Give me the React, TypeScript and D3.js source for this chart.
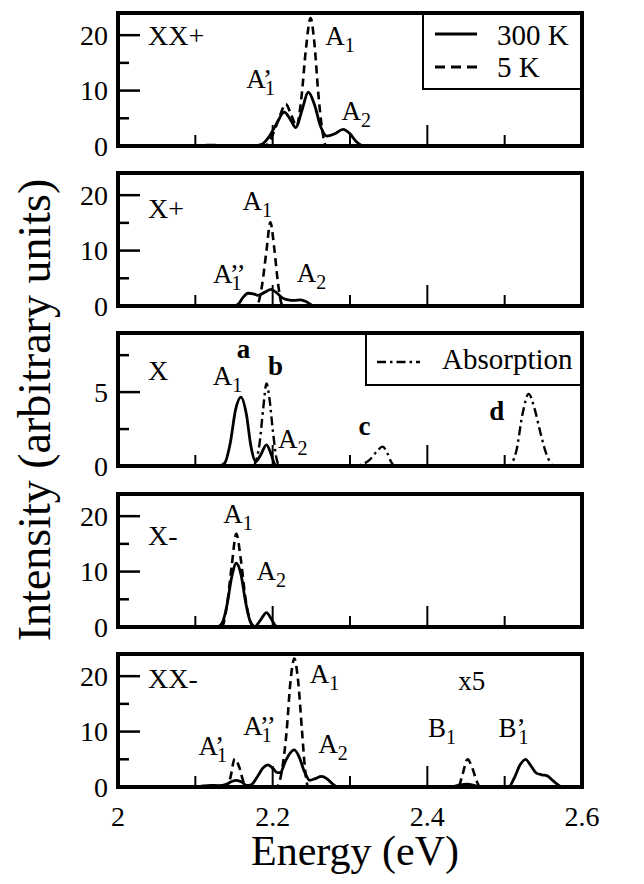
import React from 'react';
import * as d3 from 'd3';

type Pt = [number, number];

// ---------- data ----------
const energyTickLabels = [2, 2.2, 2.4, 2.6];
const energyMajorTicks = [2.2, 2.4];
const energyMinorTicks = [2.1, 2.3, 2.5];

const panelNames = ['XX+', 'X+', 'X', 'X-', 'XX-'];
const panelNameLevel = [18.2, 15.8, 5.82, 14.8, 17.8];
const panelYMax = [24, 24, 9, 24, 24];
const panelYMajor = [[0, 10, 20], [0, 10, 20], [0, 5], [0, 10, 20], [0, 10, 20]];
const panelYMinor = [[5, 15], [5, 15], [2.5, 7.5], [5, 15], [5, 15]];

// XX+
const xxPlus300K: Pt[] = [
  [2.0, 0], [2.105, 0], [2.115, 0.15], [2.125, 0.15], [2.135, 0], [2.175, 0], [2.186, 0.3],
  [2.195, 1.6], [2.205, 4.0], [2.215, 6.1], [2.222, 5.0], [2.23, 3.3], [2.238, 6.5],
  [2.246, 9.7], [2.254, 7.5], [2.262, 3.5], [2.27, 1.8], [2.28, 2.2], [2.291, 3.0],
  [2.3, 2.2], [2.308, 0.8], [2.315, 0.1], [2.32, 0], [2.6, 0],
];
const xxPlus5K: Pt[] = [
  [2.0, 0], [2.19, 0], [2.2, 2.0], [2.209, 5.3], [2.217, 7.6], [2.224, 5.6], [2.231, 3.6],
  [2.237, 8.5], [2.243, 17.5], [2.249, 23.1], [2.254, 18.5], [2.259, 9.5], [2.264, 3.0],
  [2.269, 0], [2.6, 0],
];
// X+
const xPlus300K: Pt[] = [
  [2.0, 0], [2.15, 0], [2.156, 0.4], [2.162, 1.6], [2.168, 2.3], [2.175, 2.2], [2.181, 1.9],
  [2.19, 2.5], [2.198, 3.0], [2.205, 2.4], [2.212, 1.5], [2.22, 1.1], [2.228, 1.0],
  [2.236, 1.1], [2.243, 0.8], [2.25, 0.2], [2.255, 0], [2.6, 0],
];
const xPlus5K: Pt[] = [
  [2.0, 0], [2.179, 0], [2.186, 3.5], [2.192, 10.0], [2.197, 15.1], [2.202, 10.5],
  [2.207, 4.0], [2.213, 0], [2.6, 0],
];
// X
const x300K: Pt[] = [
  [2.0, 0], [2.13, 0], [2.138, 0.2], [2.145, 1.5], [2.152, 3.8], [2.159, 4.66], [2.166, 3.5],
  [2.172, 1.3], [2.178, 0.3], [2.184, 0.7], [2.192, 1.43], [2.198, 0.8], [2.203, 0.1],
  [2.208, 0], [2.6, 0],
];
const xAbsorption: Pt[] = [
  [2.176, 0], [2.183, 1.5], [2.188, 4.0], [2.192, 5.58], [2.196, 4.5], [2.2, 2.5], [2.205, 0.5],
  [2.209, 0], [2.305, 0], [2.315, 0.1], [2.325, 0.4], [2.335, 1.0], [2.342, 1.31], [2.348, 0.9],
  [2.353, 0.3], [2.358, 0], [2.505, 0], [2.515, 1.0], [2.523, 3.5], [2.531, 4.88], [2.538, 4.0],
  [2.546, 2.3], [2.554, 0.8], [2.562, 0],
];
// X-
const xMinus300K: Pt[] = [
  [2.0, 0], [2.128, 0], [2.135, 0.8], [2.141, 4.0], [2.147, 9.0], [2.153, 11.5], [2.159, 9.5],
  [2.165, 4.5], [2.171, 1.0], [2.177, 0.1], [2.184, 1.2], [2.192, 2.6], [2.198, 1.5],
  [2.204, 0.2], [2.208, 0], [2.6, 0],
];
const xMinus5K: Pt[] = [
  [2.0, 0], [2.134, 0], [2.141, 4.0], [2.147, 11.0], [2.153, 16.8], [2.159, 12.0], [2.165, 5.0],
  [2.171, 1.0], [2.176, 0], [2.6, 0],
];
// XX-
const xxMinus300K: Pt[] = [
  [2.0, 0], [2.1, 0], [2.11, 0.2], [2.12, 0.3], [2.13, 0.25], [2.14, 0.5], [2.147, 1.0],
  [2.153, 1.2], [2.16, 0.9], [2.166, 0.3], [2.172, 0.4], [2.18, 1.8], [2.188, 3.5],
  [2.194, 4.0], [2.2, 3.4], [2.206, 2.6], [2.21, 2.6], [2.216, 4.5], [2.222, 6.0],
  [2.228, 6.7], [2.234, 5.5], [2.241, 2.8], [2.248, 1.2], [2.255, 1.5], [2.263, 1.9],
  [2.27, 1.5], [2.277, 0.6], [2.284, 0], [2.325, 0], [2.33, 0.1], [2.338, 0.1], [2.343, 0],
  [2.43, 0], [2.44, 0.3], [2.452, 0.5], [2.46, 0.3], [2.47, 0], [2.505, 0], [2.512, 1.5],
  [2.52, 4.0], [2.527, 5.0], [2.534, 3.8], [2.541, 2.5], [2.548, 2.2], [2.555, 2.0],
  [2.562, 1.2], [2.568, 0.5], [2.575, 0], [2.6, 0],
];
const xxMinus5K: Pt[] = [
  [2.0, 0], [2.14, 0], [2.145, 1.5], [2.151, 5.1], [2.157, 3.5], [2.162, 1.0], [2.166, 0],
  [2.205, 0], [2.212, 3.0], [2.218, 10.0], [2.223, 19.0], [2.228, 23.2], [2.233, 19.0],
  [2.238, 10.0], [2.242, 3.0], [2.246, 0], [2.44, 0], [2.445, 2.0], [2.452, 5.0],
  [2.458, 3.5], [2.464, 1.0], [2.468, 0], [2.6, 0],
];

const panelSolid = [xxPlus300K, xPlus300K, x300K, xMinus300K, xxMinus300K];
const panelDashed = [xxPlus5K, xPlus5K, null, xMinus5K, xxMinus5K];
const panelDashDot = [null, null, xAbsorption, null, null];

type Lab = { panel: number; text: string; sub?: string; prime?: string; bold?: boolean; e: number; v: number };
const peakLabels: Lab[] = [
  { panel: 0, text: 'A', sub: '1', e: 2.268, v: 18.2 },
  { panel: 0, text: 'A', sub: '1', prime: '’', e: 2.166, v: 10.4 },
  { panel: 0, text: 'A', sub: '2', e: 2.289, v: 4.7 },
  { panel: 1, text: 'A', sub: '1', e: 2.161, v: 17.3 },
  { panel: 1, text: 'A', sub: '1', prime: '’’', e: 2.123, v: 4.1 },
  { panel: 1, text: 'A', sub: '2', e: 2.231, v: 4.4 },
  { panel: 2, text: 'a', bold: true, e: 2.1535, v: 7.29 },
  { panel: 2, text: 'A', sub: '1', e: 2.1224, v: 5.48 },
  { panel: 2, text: 'b', bold: true, e: 2.194, v: 6.16 },
  { panel: 2, text: 'A', sub: '2', e: 2.207, v: 1.2 },
  { panel: 2, text: 'c', bold: true, e: 2.311, v: 2.1 },
  { panel: 2, text: 'd', bold: true, e: 2.48, v: 3.1 },
  { panel: 3, text: 'A', sub: '1', e: 2.136, v: 18.7 },
  { panel: 3, text: 'A', sub: '2', e: 2.179, v: 8.5 },
  { panel: 4, text: 'A', sub: '1', e: 2.248, v: 18.7 },
  { panel: 4, text: 'x5', e: 2.44, v: 17.5 },
  { panel: 4, text: 'A', sub: '1', prime: '’', e: 2.104, v: 5.8 },
  { panel: 4, text: 'A', sub: '1', prime: '’’', e: 2.162, v: 9.4 },
  { panel: 4, text: 'A', sub: '2', e: 2.259, v: 6.1 },
  { panel: 4, text: 'B', sub: '1', e: 2.401, v: 9.1 },
  { panel: 4, text: 'B', sub: '1', prime: '’', e: 2.492, v: 9.1 },
];

// ---------- layout ----------
const W = 644;
const H = 884;
const X0 = 118;
const X1 = 582;
const panelTops = [13, 173, 333, 494, 654];
const PH = 133;
const FONT = 'Liberation Serif';

export default function App() {
  const x = d3.scaleLinear().domain([2, 2.6]).range([X0, X1]);

  return (
    <div style={{ position: 'absolute', left: 0, top: 0, background: '#fff' }}>
      <svg width={W} height={H} viewBox={`0 0 ${W} ${H}`} style={{ display: 'block' }}>
        <rect x={0} y={0} width={W} height={H} fill="#fff" />
        <g fontFamily={FONT}>
          {panelNames.map((name, i) => {
            const top = panelTops[i];
            const y = d3.scaleLinear().domain([0, panelYMax[i]]).range([top + PH, top]);
            const line = d3
              .line<Pt>()
              .x((d) => x(d[0]))
              .y((d) => y(d[1]))
              .curve(d3.curveMonotoneX);
            const solid = panelSolid[i];
            const dashed = panelDashed[i];
            const dashdot = panelDashDot[i];
            const labs = peakLabels.filter((l) => l.panel === i);
            return (
              <g key={name}>
                {dashed && (
                  <path d={line(dashed) || ''} fill="none" stroke="#000" strokeWidth={2.6} strokeDasharray="8,5" />
                )}
                {dashdot && (
                  <path d={line(dashdot) || ''} fill="none" stroke="#000" strokeWidth={2.4} strokeDasharray="9,4,2.5,4" />
                )}
                <path d={line(solid) || ''} fill="none" stroke="#000" strokeWidth={2.8} strokeLinejoin="round" />

                {panelYMajor[i].map((t) => (
                  <g key={'M' + t}>
                    {t > 0 && <line x1={X0} x2={X0 + 22} y1={y(t)} y2={y(t)} stroke="#000" strokeWidth={2.5} />}
                    <text x={108} y={y(t)} dy="0.35em" textAnchor="end" fontSize={28} fontFamily={FONT}>
                      {t}
                    </text>
                  </g>
                ))}
                {panelYMinor[i].map((t) => (
                  <line key={'m' + t} x1={X0} x2={X0 + 11} y1={y(t)} y2={y(t)} stroke="#000" strokeWidth={2.5} />
                ))}
                {energyMajorTicks.map((t) => (
                  <line key={'xM' + t} x1={x(t)} x2={x(t)} y1={top + PH} y2={top + PH - 21} stroke="#000" strokeWidth={2} />
                ))}
                {energyMinorTicks.map((t) => (
                  <line key={'xm' + t} x1={x(t)} x2={x(t)} y1={top + PH} y2={top + PH - 11} stroke="#000" strokeWidth={2} />
                ))}

                <rect x={X0} y={top} width={X1 - X0} height={PH} fill="none" stroke="#000" strokeWidth={4} />

                <text x={148} y={y(panelNameLevel[i])} fontSize={28} fontFamily={FONT}>
                  {name}
                </text>

                {labs.map((l, k) => (
                  <text key={k} x={x(l.e)} y={y(l.v)} fontSize={27} fontFamily={FONT} fontWeight={l.bold ? 'bold' : 'normal'}>
                    {l.text}
                    {l.prime && <tspan>{l.prime}</tspan>}
                    {l.sub && (
                      <tspan dx={l.prime ? -7 * l.prime.length : 0} dy={7} fontSize={20}>
                        {l.sub}
                      </tspan>
                    )}
                  </text>
                ))}
              </g>
            );
          })}

          {/* legend panel 1 */}
          <g>
            <rect x={423} y={13} width={X1 - 423} height={76} fill="#fff" stroke="#000" strokeWidth={2} />
            <rect x={X0} y={panelTops[0]} width={X1 - X0} height={PH} fill="none" stroke="#000" strokeWidth={4} />
            <line x1={435} x2={477} y1={34} y2={34} stroke="#000" strokeWidth={2.8} />
            <text x={497} y={45} fontSize={29} fontFamily={FONT}>300 K</text>
            <line x1={435} x2={477} y1={67} y2={67} stroke="#000" strokeWidth={2.8} strokeDasharray="10,6" />
            <text x={497} y={77} fontSize={29} fontFamily={FONT}>5 K</text>
          </g>
          {/* legend panel 3 */}
          <g>
            <rect x={366} y={panelTops[2]} width={X1 - 366} height={52} fill="#fff" stroke="#000" strokeWidth={2} />
            <rect x={X0} y={panelTops[2]} width={X1 - X0} height={PH} fill="none" stroke="#000" strokeWidth={4} />
            <line x1={377} x2={420} y1={362} y2={362} stroke="#000" strokeWidth={2.4} strokeDasharray="9,4,2.5,4" />
            <text x={442} y={369} fontSize={29} fontFamily={FONT}>Absorption</text>
          </g>

          {energyTickLabels.map((t) => (
            <text key={'xl' + t} x={x(t)} y={826} textAnchor="middle" fontSize={28} fontFamily={FONT}>
              {d3.format('')(t)}
            </text>
          ))}

          <text x={355} y={865} textAnchor="middle" fontSize={42} fontFamily={FONT}>
            Energy (eV)
          </text>
          <text transform="translate(50,410) rotate(-90)" textAnchor="middle" fontSize={46} fontFamily={FONT}>
            Intensity (arbitrary units)
          </text>
        </g>
      </svg>
    </div>
  );
}
